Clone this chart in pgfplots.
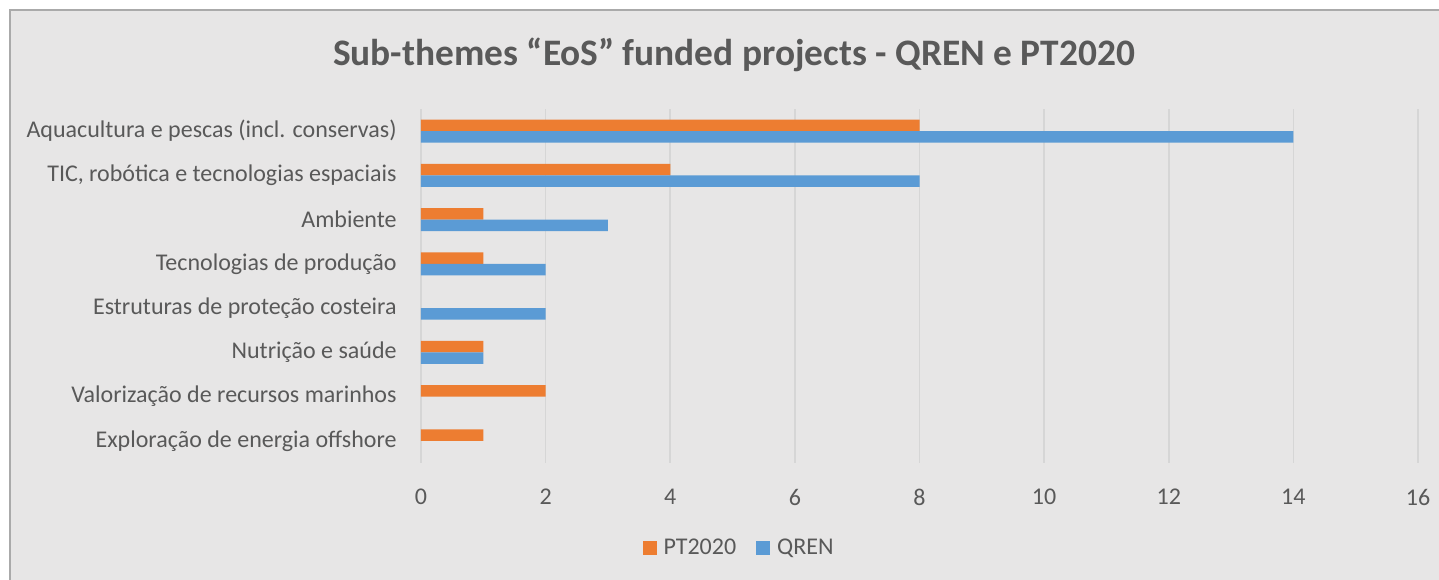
\documentclass[border=0pt]{standalone}
\usepackage{pgfplots}
\pgfplotsset{compat=1.18}
\usepackage{fontspec}
\setmainfont{Carlito}
\definecolor{bg}{HTML}{E7E6E6}
\definecolor{txt}{HTML}{595959}
\definecolor{gridc}{HTML}{D6D6D6}
\definecolor{orng}{HTML}{ED7D31}
\definecolor{blu}{HTML}{5B9BD5}
\begin{document}
\begin{tikzpicture}
\path[use as bounding box] (0,0) rectangle (719.5pt,289.5pt);
\fill[white] (0,0) rectangle (719.5pt,289.5pt);
\fill[bg] (5pt,-5pt) rectangle (725pt,284.5pt);
\draw[color={rgb,255:red,170;green,170;blue,170}, line width=0.8pt] (5pt,-5pt) -- (5pt,284.5pt) -- (725pt,284.5pt);
\node[font=\bfseries\fontsize{18.7pt}{21pt}\selectfont, text=txt] at (367pt,262pt) {Sub-themes “EoS” funded projects - QREN e PT2020};
\begin{axis}[
  at={(210.5pt,58pt)}, anchor=south west,
  scale only axis, width=498.5pt, height=177pt,
  xbar, y dir=reverse,
  xmin=0, xmax=16, ymin=-0.5, ymax=7.5,
  xtick={0,2,...,16},
  ytick={0,...,7},
  yticklabels={Aquacultura e pescas (incl. conservas), {TIC, robótica e tecnologias espaciais}, Ambiente, Tecnologias de produção, Estruturas de proteção costeira, Nutrição e saúde, Valorização de recursos marinhos, Exploração de energia offshore},
  axis line style={draw=none},
  major tick length=0pt,
  xmajorgrids, grid style={gridc, line width=0.85pt},
  /pgf/number format/assume math mode=true,
  tick label style={font=\fontsize{12pt}{14pt}\selectfont, text=txt, inner sep=0pt},
  xticklabel style={anchor=center, yshift=-17pt},
  yticklabel style={anchor=east, xshift=-12pt},
  bar width=0.26,
  legend style={at={(0.32,-0.24)}, anchor=center, draw=none, fill=none,
    legend columns=2, font=\fontsize{12pt}{14pt}\selectfont, text=txt,
    /tikz/every odd column/.append style={column sep=1.5pt},
    /tikz/every even column/.append style={column sep=8pt}},
  legend image code/.code={\fill[#1] (0pt,-3.5pt) rectangle (7pt,3.5pt);},
  clip=false,
]
\addplot[fill=orng, draw=none, bar shift=-0.13] coordinates {(8,0) (4,1) (1,2) (1,3) (1,5) (2,6) (1,7)};
\addplot[fill=blu, draw=none, bar shift=0.13] coordinates {(14,0) (8,1) (3,2) (2,3) (2,4) (1,5)};
\legend{PT2020, QREN}
\end{axis}
\end{tikzpicture}
\end{document}
